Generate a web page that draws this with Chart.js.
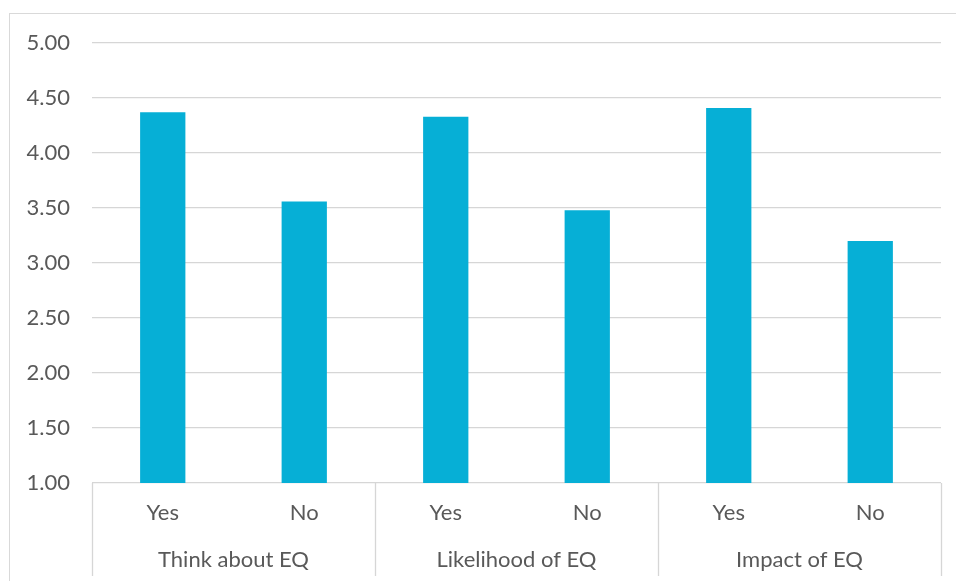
<!DOCTYPE html>
<html>
<head>
<meta charset="utf-8">
<script src="https://cdn.jsdelivr.net/npm/chart.js@4.4.1/dist/chart.umd.min.js"></script>
<style>
  html, body { margin: 0; padding: 0; background: #fff; }
  #wrap { position: relative; width: 956px; height: 581px; overflow: hidden; }
  #frame { position: absolute; left: 9px; top: 13px; width: 960px; height: 600px; border: 1px solid #d9d9d9; box-sizing: border-box; }
  #chart { position: absolute; left: 0; top: 0; }
</style>
</head>
<body>
<div id="wrap">
  <div id="frame"></div>
  <canvas id="chart" width="956" height="581"></canvas>
</div>
<script>
const answers = ['Yes', 'No', 'Yes', 'No', 'Yes', 'No'];
const groups = ['Think about EQ', 'Likelihood of EQ', 'Impact of EQ'];
const scores = [4.37, 3.56, 4.33, 3.48, 4.41, 3.20];

const gridGray = '#d6d6d6';
const textGray = '#595959';

// vertical separators between the groups, under the plot
const groupLines = {
  id: 'groupLines',
  afterDraw(chart) {
    const area = chart.chartArea;
    const c = chart.ctx;
    const step = (area.right - area.left) / groups.length;
    c.save();
    c.strokeStyle = gridGray;
    c.lineWidth = 1.3;
    for (let i = 0; i <= groups.length; i++) {
      const x = Math.round(area.left + i * step) + 0.5;
      c.beginPath();
      c.moveTo(x, area.bottom);
      c.lineTo(x, 576);
      c.stroke();
    }
    c.restore();
  }
};

const ctx = document.getElementById('chart');
const chart = new Chart(ctx, {
  type: 'bar',
  data: {
    labels: answers,
    datasets: [{
      data: scores,
      backgroundColor: '#06afd6',
      categoryPercentage: 1,
      barPercentage: 0.32
    }]
  },
  options: {
    responsive: false,
    animation: false,
    layout: { padding: { left: 10, right: 15, top: 43, bottom: 0 } },
    plugins: {
      legend: { display: false },
      tooltip: { enabled: false }
    },
    scales: {
      y: {
        min: 1,
        max: 5,
        border: { display: false },
        grid: { color: gridGray, lineWidth: 1.3, drawTicks: false },
        ticks: {
          stepSize: 0.5,
          padding: 22,
          color: textGray,
          font: { family: 'Lato', size: 22 },
          callback: v => v.toFixed(2)
        },
        afterFit: s => { s.width = 82; }
      },
      x: {
        border: { display: false },
        grid: { display: false, drawTicks: false },
        ticks: {
          padding: 17,
          color: textGray,
          font: { family: 'Lato', size: 22 }
        },
        afterFit: s => { s.height = 60; }
      },
      x2: {
        type: 'category',
        position: 'bottom',
        labels: groups,
        border: { display: false },
        grid: { display: false, drawTicks: false },
        ticks: {
          padding: 4,
          color: textGray,
          font: { family: 'Lato', size: 22 }
        },
        afterFit: s => { s.height = 38; }
      }
    }
  },
  plugins: [groupLines]
});
</script>
</body>
</html>
